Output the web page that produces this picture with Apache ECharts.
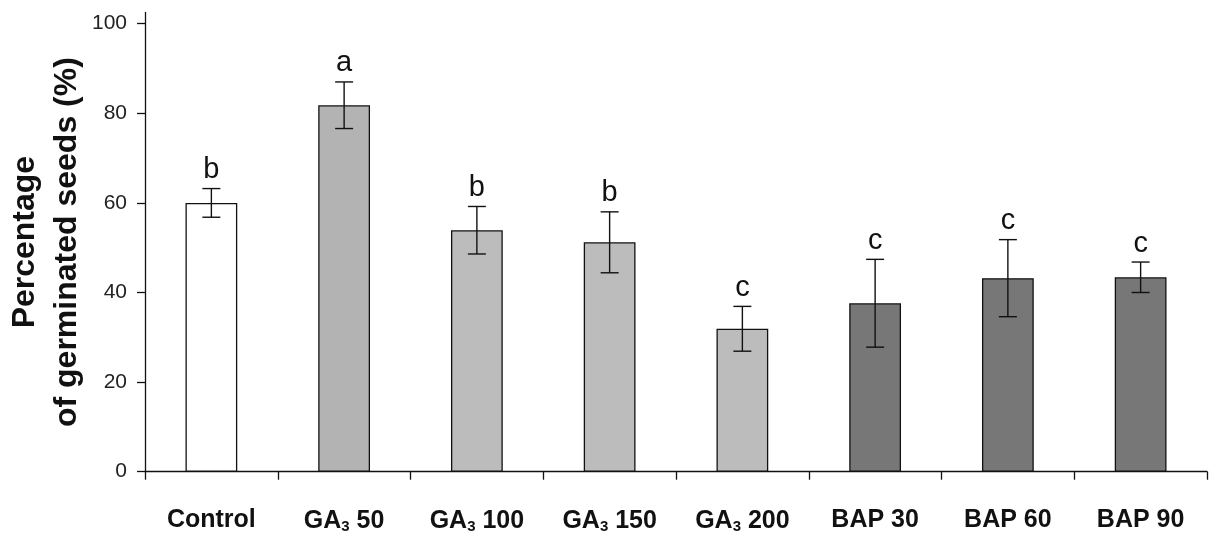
<!DOCTYPE html>
<html>
<head>
<meta charset="utf-8">
<script src="https://cdn.jsdelivr.net/npm/echarts@6/dist/echarts.min.js"></script>
<style>
  html, body { margin: 0; padding: 0; background: #fff; }
  #chart { width: 1213px; height: 534px; }
</style>
</head>
<body>
<div id="chart"></div>
<script>
var categories = ['Control', 'GA{s|3} 50', 'GA{s|3} 100', 'GA{s|3} 150', 'GA{s|3} 200', 'BAP 30', 'BAP 60', 'BAP 90'];
var means = [60, 81.8, 53.9, 51.2, 31.9, 37.6, 43.2, 43.4];
var errors = [3.2, 5.2, 5.3, 6.8, 5.0, 9.8, 8.6, 3.4];
var letters = ['b', 'a', 'b', 'b', 'c', 'c', 'c', 'c'];
var barColors = ['#ffffff', '#b3b3b3', '#bcbcbc', '#bcbcbc', '#bcbcbc', '#777777', '#777777', '#777777'];
var yTicks = [0, 20, 40, 60, 80, 100];

(function() {
  var chart = echarts.init(document.getElementById('chart'), null, { renderer: 'canvas' });
  var font = 'Liberation Sans, Arial, sans-serif';

  var barData = means.map(function(v, i) {
    return { value: v, itemStyle: { color: barColors[i] } };
  });
  var errData = means.map(function(v, i) { return [i, v - errors[i], v + errors[i], letters[i]]; });

  chart.setOption({
    animation: false,
    backgroundColor: '#fff',
    grid: { left: 145, right: 6, top: 12.5, bottom: 62.3, containLabel: false, outerBoundsMode: 'none' },
    xAxis: {
      type: 'category',
      data: categories,
      axisLine: { lineStyle: { color: '#111', width: 1.3 } },
      axisTick: { show: true, interval: 0, length: 8, lineStyle: { color: '#111', width: 1.3 } },
      axisLabel: {
        interval: 0,
        margin: 36,
        color: '#111',
        fontFamily: font,
        fontSize: 25,
        fontWeight: 'bold',
        rich: {
          s: { fontSize: 15, fontWeight: 'bold', color: '#111', padding: [12, 0, 0, 0], fontFamily: font }
        }
      }
    },
    yAxis: {
      type: 'value',
      min: 0,
      max: 102.5,
      name: 'Percentage\nof germinated seeds (%)',
      nameLocation: 'middle',
      nameGap: 57,
      nameMoveOverlap: false,
      nameTextStyle: {
        color: '#111',
        fontFamily: font,
        fontSize: 32,
        fontWeight: 'bold',
        lineHeight: 42
      },
      axisLine: { show: true, lineStyle: { color: '#111', width: 1.3 } },
      axisTick: { show: true, inside: false, length: 8, customValues: yTicks, lineStyle: { color: '#111', width: 1.3 } },
      axisLabel: {
        customValues: yTicks,
        margin: 18,
        color: '#222',
        fontFamily: font,
        fontSize: 21
      },
      splitLine: { show: false }
    },
    series: [
      {
        type: 'bar',
        data: barData,
        barWidth: '39%',
        itemStyle: { borderColor: '#111', borderWidth: 1.3 }
      },
      {
        type: 'custom',
        data: errData,
        z: 10,
        renderItem: function(params, api) {
          var x = api.value(0);
          var lo = api.coord([x, api.value(1)]);
          var hi = api.coord([x, api.value(2)]);
          var cap = 9;
          var style = { stroke: '#111', lineWidth: 1.4 };
          return {
            type: 'group',
            children: [
              { type: 'line', shape: { x1: hi[0], y1: hi[1], x2: lo[0], y2: lo[1] }, style: style },
              { type: 'line', shape: { x1: hi[0] - cap, y1: hi[1], x2: hi[0] + cap, y2: hi[1] }, style: style },
              { type: 'line', shape: { x1: lo[0] - cap, y1: lo[1], x2: lo[0] + cap, y2: lo[1] }, style: style },
              {
                type: 'text',
                x: hi[0],
                y: hi[1] - 4,
                style: {
                  text: api.value(3),
                  fill: '#111',
                  font: '29px "Liberation Sans", Arial, sans-serif',
                  align: 'center',
                  verticalAlign: 'bottom'
                }
              }
            ]
          };
        }
      }
    ]
  });
})();
</script>
</body>
</html>
